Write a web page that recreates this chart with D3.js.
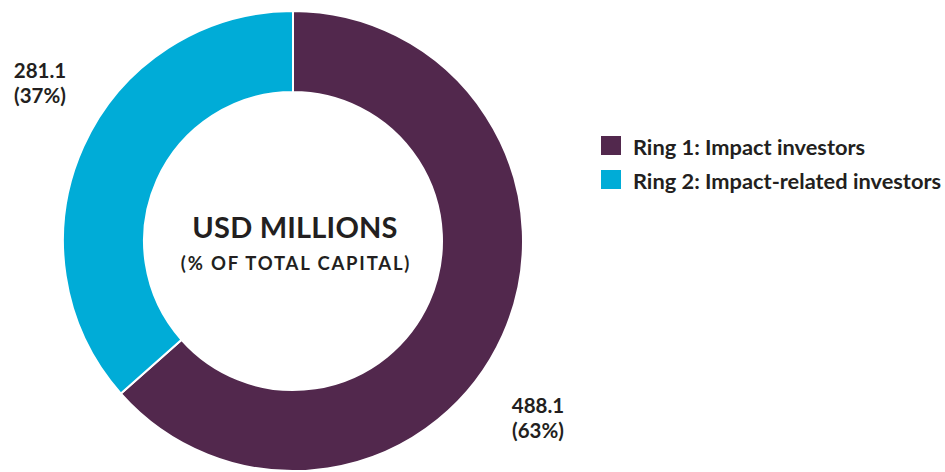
<!DOCTYPE html>
<html><head><meta charset="utf-8">
<script src="https://cdn.jsdelivr.net/npm/d3@7"></script>
<style>body{margin:0;background:#fff}svg{display:block}text{font-family:Lato,"Open Sans",sans-serif;fill:#231f20}</style>
</head><body>
<script>
const categories = ["Ring 1: Impact investors", "Ring 2: Impact-related investors"];
const values = [488.1, 281.1];
const percentLabels = ["(63%)", "(37%)"];
const valueLabels = ["488.1", "281.1"];
const colors = ["#52284d", "#00acd7"];
const centerTitle = "USD MILLIONS";
const centerSub = "(% OF TOTAL CAPITAL)";

const W = 945, H = 472;
const svg = d3.select("body").append("svg").attr("width", W).attr("height", H);
const cx = 293, cy = 241, R = 230, r = 149;
const g = svg.append("g").attr("transform", `translate(${cx},${cy})`);
const pie = d3.pie().sort(null).value(d => d);
const arcs = pie(values);
const arc = d3.arc().innerRadius(r).outerRadius(R);
g.selectAll("path").data(arcs).join("path")
  .attr("d", arc).attr("fill", (d, i) => colors[i])
  .attr("stroke", "#fff").attr("stroke-width", 2);

// value labels
const labelPos = [[538, 413], [40, 78]];
arcs.forEach((d, i) => {
  const t = svg.append("text").attr("text-anchor", "middle").attr("font-weight", 700).attr("font-size", 20.5);
  t.append("tspan").attr("x", labelPos[i][0]).attr("y", labelPos[i][1]).text(valueLabels[i]);
  t.append("tspan").attr("x", labelPos[i][0]).attr("y", labelPos[i][1] + 25).text(percentLabels[i]);
});

// center
svg.append("text").attr("x", 295).attr("y", 238).attr("text-anchor", "middle")
  .attr("font-weight", 700).attr("font-size", 29).attr("letter-spacing", 0.2).text(centerTitle);
svg.append("text").attr("x", 296).attr("y", 270).attr("text-anchor", "middle")
  .attr("font-weight", 700).attr("font-size", 18.5).attr("letter-spacing", 1.8).text(centerSub);

// legend
const lg = svg.append("g").attr("transform", "translate(601,136)");
categories.forEach((c, i) => {
  const row = lg.append("g").attr("transform", `translate(0,${i * 34})`);
  row.append("rect").attr("width", 20).attr("height", 19).attr("fill", colors[i]);
  row.append("text").attr("x", 32).attr("y", 19).attr("font-weight", 700).attr("font-size", 21.8).text(c);
});
</script>
</body></html>
